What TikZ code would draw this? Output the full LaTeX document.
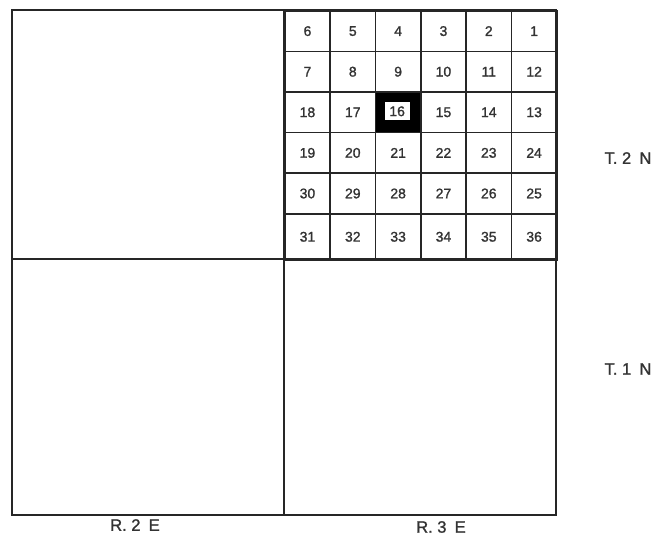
\documentclass[tikz,border=0pt]{standalone}
\usepackage{fontspec}
\setmainfont{Liberation Sans}
\newfontfamily\medfont{Liberation Sans}[FakeBold=1.3]
\begin{document}
\begin{tikzpicture}[x=1pt,y=-1pt,
  frame/.style={line width=1.8pt, draw=black!85},
  cell/.style={draw=black!85, line width=1.6pt, minimum width=45.33pt, minimum height=40.6pt, inner sep=0pt, font=\medfont\fontsize{14}{16}\selectfont, text=black!80, anchor=north west},
  lastcell/.style={cell, minimum height=46pt},
  lab/.style={font=\medfont\fontsize{16.5}{19}\selectfont, text=black!80}]
\useasboundingbox (0,0) rectangle (669,540);
% outer frame and quadrant lines
\coordinate (tl) at (12,10);
\coordinate (br) at (556,515);
\coordinate (mt) at (284,10);
\coordinate (mb) at (284,515);
\coordinate (ml) at (12,259);
\coordinate (mr) at (556,259);
\draw[frame] (tl) rectangle (br);
\draw[frame] (mt) -- (mb);
\draw[frame] (ml) -- (mr);
% grid
\foreach \r/\nums in {0/{6,5,4,3,2,1},1/{7,8,9,10,11,12},2/{18,17,16,15,14,13},3/{19,20,21,22,23,24},4/{30,29,28,27,26,25}}{
  \foreach \n [count=\c from 0] in \nums {
    \ifnum\n=16
      \node[cell, fill=black] (c\n) at ({284+45.33*\c},{10+40.6*\r}) {};
      \node[fill=white, minimum width=25pt, minimum height=18pt, inner sep=0pt, font=\medfont\fontsize{14}{16}\selectfont, text=black!80] (t\n) at ([xshift=-1pt,yshift=1pt]c\n.center) {\n};
    \else
      \node[cell] (c\n) at ({284+45.33*\c},{10+40.6*\r}) {\n};
    \fi
  }
}
\foreach \n [count=\c from 0] in {31,32,33,34,35,36} {
  \node[lastcell] (c\n) at ({284+45.33*\c},213) {\n};
}
% labels
\node[lab] (t2) at (628,158) {T. 2\enspace N};
\node[lab] (t1) at (628,369) {T. 1\enspace N};
\node[lab] (r2) at (135,525) {R. 2\enspace E};
\node[lab] (r3) at (441,527) {R. 3\enspace E};
\end{tikzpicture}
\end{document}
